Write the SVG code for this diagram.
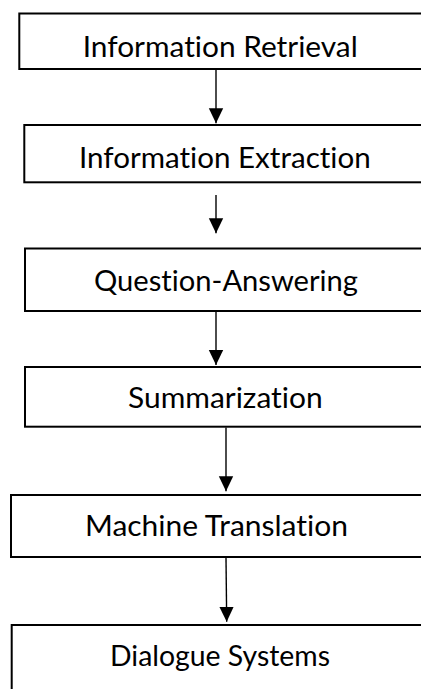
<svg xmlns="http://www.w3.org/2000/svg" width="421" height="689" viewBox="0 0 421 689">
<style>
.box{fill:#ffffff;stroke:#000000;stroke-width:2}
.lbl{font-family:Lato,"Open Sans","Liberation Sans",sans-serif;font-size:29.5px;fill:#000000;font-variant-ligatures:none;font-feature-settings:"liga" 0,"clig" 0}
.conn{stroke:#000000;stroke-width:1.4;fill:none}
</style>
<defs>
<marker id="ah" markerUnits="userSpaceOnUse" markerWidth="16" markerHeight="16" viewBox="0 0 16 16" refX="15" refY="8" orient="auto">
<path d="M0,0.8 L15,8 L0,15.2 Z" fill="#000000"/>
</marker>
</defs>
<rect x="0" y="0" width="421" height="689" fill="#ffffff"/>
<g id="node-ir">
<rect class="box" x="19.3" y="13.5" width="420" height="55.5"/>
<text class="lbl" x="82.7" y="56.7" textLength="275" lengthAdjust="spacingAndGlyphs">Information Retrieval</text>
</g>
<g id="node-ie">
<rect class="box" x="24.3" y="125" width="420" height="57.3"/>
<text class="lbl" x="79" y="167.7" textLength="291.7" lengthAdjust="spacingAndGlyphs">Information Extraction</text>
</g>
<g id="node-qa">
<rect class="box" x="25" y="248.5" width="420" height="62.5"/>
<text class="lbl" x="94" y="291" textLength="264" lengthAdjust="spacingAndGlyphs">Question-Answering</text>
</g>
<g id="node-sum">
<rect class="box" x="25" y="367" width="420" height="59.7"/>
<text class="lbl" x="128" y="408" textLength="194.7" lengthAdjust="spacingAndGlyphs">Summarization</text>
</g>
<g id="node-mt">
<rect class="box" x="11" y="495" width="430" height="62"/>
<text class="lbl" x="85" y="536" textLength="263" lengthAdjust="spacingAndGlyphs">Machine Translation</text>
</g>
<g id="node-ds">
<rect class="box" x="11.7" y="625" width="430" height="80"/>
<text class="lbl" x="110" y="665.7" textLength="220" lengthAdjust="spacingAndGlyphs">Dialogue Systems</text>
</g>
<g id="connectors">
<line class="conn" x1="216" y1="70" x2="216" y2="123.3" marker-end="url(#ah)"/>
<line class="conn" x1="216" y1="195" x2="216" y2="233.3" marker-end="url(#ah)"/>
<line class="conn" x1="216" y1="312" x2="216" y2="365" marker-end="url(#ah)"/>
<line class="conn" x1="226" y1="427.5" x2="226" y2="491.3" marker-end="url(#ah)"/>
<line class="conn" x1="226" y1="558" x2="226.7" y2="621.7" marker-end="url(#ah)"/>
</g>
</svg>
